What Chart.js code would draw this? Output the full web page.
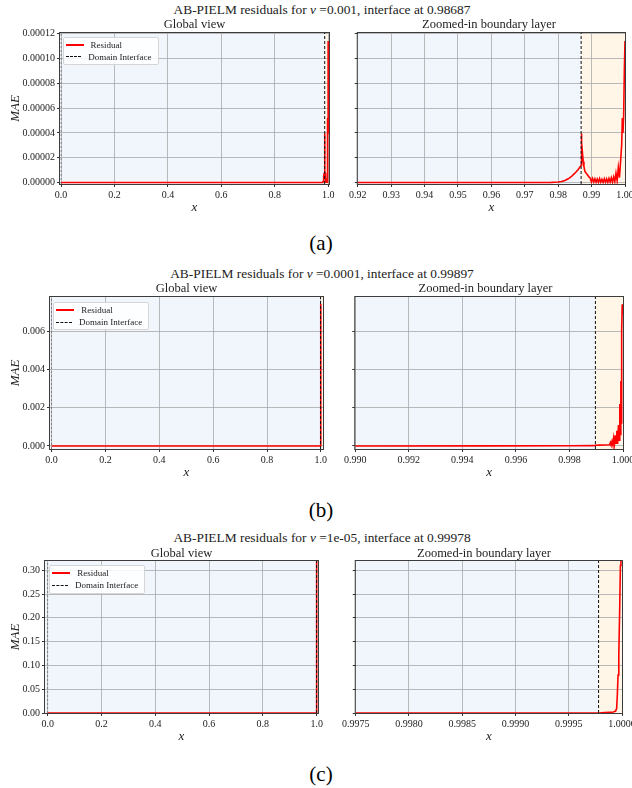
<!DOCTYPE html>
<html><head><meta charset="utf-8">
<script src="https://cdn.jsdelivr.net/npm/chart.js@4"></script>
<style>
html,body{margin:0;padding:0;background:#fff;}
body{width:632px;height:788px;overflow:hidden;position:relative;font-family:"Liberation Serif","Times New Roman",serif;color:#222;}
.t{position:absolute;white-space:nowrap;transform:translate(-50%,-50%);font-size:12.5px;line-height:14px;}
.st{position:absolute;white-space:nowrap;transform:translate(-50%,-50%);font-size:13.4px;line-height:15px;}
.lab{position:absolute;white-space:nowrap;transform:translate(-50%,-50%);font-size:21px;color:#000;}
.cv{position:absolute;}
.legend{position:absolute;background:rgba(255,255,255,0.85);border:1px solid #d6d6d6;border-radius:2px;font-size:9px;padding:1px 6px 1px 2px;box-sizing:border-box;}
.legend .row{display:flex;align-items:center;height:12.3px;white-space:nowrap;}
.legend .sw{width:18px;margin-right:7px;position:relative;height:2px;}
</style></head>
<body>
<script>
// ---------------- DATA ----------------
const caseLabels = ['(a)', '(b)', '(c)'];
const nuValues = ['0.001', '0.0001', '1e-05'];
const interfaceValues = [0.98687, 0.99897, 0.99978];
const seriesNames = ['Residual', 'Domain Interface'];
const subplotTitles = ['Global view', 'Zoomed-in boundary layer'];

// case (a): nu = 0.001
const aX = [0, 0.1, 0.2, 0.3, 0.4, 0.5, 0.6, 0.7, 0.8, 0.9, 0.95, 0.97,
  0.975, 0.978, 0.979, 0.980, 0.981, 0.982, 0.983, 0.984, 0.985, 0.986,
  0.9868, 0.98687, 0.9869, 0.9871, 0.9873, 0.9875, 0.9877, 0.9880, 0.9884, 0.9888, 0.9892, 0.9896,
  0.98995, 0.9903, 0.99065, 0.991, 0.99135, 0.9917, 0.99205, 0.9924, 0.99275, 0.9931,
  0.99345, 0.9938, 0.99415, 0.9945, 0.99485, 0.9952, 0.99555, 0.9959, 0.99625, 0.9966,
  0.99695, 0.9973, 0.99765, 0.998, 0.99835, 0.9987, 0.999, 0.9992, 0.9994, 0.9996, 0.9998, 1.0];
const aY = [0, 0, 0, 0, 0, 0, 0, 0, 0, 0, 0, 0,
  0.00000005, 0.0000001, 0.0000002, 0.0000004, 0.0000008, 0.0000016, 0.0000030, 0.0000050, 0.0000075, 0.0000105,
  0.0000135, 0.0000141, 0.0000396, 0.0000320, 0.0000230, 0.0000170, 0.0000130, 0.0000090, 0.0000075, 0.0000060, 0.0000045, 0.0000035,
  0.0000005, 0.0000032, 0.0000004, 0.0000030, 0.0000003, 0.0000028, 0.0000002, 0.0000031, 0.0000003, 0.0000026,
  0.0000002, 0.0000030, 0.0000003, 0.0000029, 0.0000002, 0.0000033, 0.0000004, 0.0000038, 0.0000003, 0.0000045,
  0.0000008, 0.0000075, 0.0000015, 0.0000120, 0.0000040, 0.0000180, 0.0000300, 0.0000520, 0.0000400, 0.0000540, 0.0000900, 0.000114];

// case (b): nu = 0.0001
const bX = [0, 0.1, 0.2, 0.3, 0.4, 0.5, 0.6, 0.7, 0.8, 0.9, 0.95, 0.99, 0.995, 0.998,
  0.9989, 0.99897, 0.9991, 0.9993, 0.9995,
  0.99953, 0.99956, 0.99959, 0.99962, 0.99965, 0.99968, 0.99971, 0.99974, 0.99977, 0.9998,
  0.99983, 0.99986, 0.99988, 0.9999, 0.99992, 0.99993, 0.99995, 0.99997, 0.99999, 1.0];
const bY = [0, 0, 0, 0, 0, 0, 0, 0, 0, 0, 0, 0, 0.000002, 0.000008,
  0.000015, 0.00004, 0.000045, 0.00005, 0.00006,
  0.00018, 0.00004, 0.00024, 0.00006, 0.00042, 0.0001, 0.00055, 0.00015, 0.0008, 0.0001,
  0.0011, 0.0003, 0.0022, 0.0006, 0.0034, 0.0012, 0.0060, 0.0074, 0.0069, 0.00743];

// case (c): nu = 1e-05
const cX = [0, 0.2, 0.4, 0.6, 0.8, 0.99, 0.999, 0.9998, 0.99992, 0.99993, 0.99994, 0.99995,
  0.999956, 0.999963, 0.99997, 0.999979, 0.999985, 0.99999, 1.0];
const cY = [0, 0, 0, 0, 0, 0, 0, 0.0002, 0.002, 0.003, 0.004, 0.01,
  0.038, 0.08, 0.122, 0.227, 0.31, 0.35, 0.40];

// tick labels
const globalXTicks = [0, 0.2, 0.4, 0.6, 0.8, 1.0];
const zoomXTicksA = [0.92, 0.93, 0.94, 0.95, 0.96, 0.97, 0.98, 0.99, 1.00];
const zoomXTicksB = [0.990, 0.992, 0.994, 0.996, 0.998, 1.000];
const zoomXTicksC = [0.9975, 0.9980, 0.9985, 0.9990, 0.9995, 1.0000];
const yTicksA = [0, 0.00002, 0.00004, 0.00006, 0.00008, 0.00010, 0.00012];
const yTicksB = [0, 0.002, 0.004, 0.006];
const yTicksC = [0, 0.05, 0.10, 0.15, 0.20, 0.25, 0.30];

// ---------------- LAYOUT ----------------
const rows = [
  {xs: aX, ys: aY, zTicks: zoomXTicksA, yTicks: yTicksA,
   top: 33, bottom: 184, gL: [60, 329], zL: [353, 625], gX: [-0.004, 1.003], zX: [0.92, 1.0],
   yR: [-0.0000012, 0.0001205], yDec: 5, zDec: 2, titleY: 9, subY: 24, labY: 243, leg: [2.5, 3.5]},
  {xs: bX, ys: bY, zTicks: zoomXTicksB, yTicks: yTicksB,
   top: 297, bottom: 449, gL: [50, 323], zL: [348, 623], gX: [-0.006, 1.008], zX: [0.990, 1.000],
   yR: [-0.00016, 0.0078], yDec: 3, zDec: 3, titleY: 273, subY: 288, labY: 510, leg: [3.3, 4.7]},
  {xs: cX, ys: cY, zTicks: zoomXTicksC, yTicks: yTicksC,
   top: 561, bottom: 713, gL: [45, 318], zL: [346, 622], gX: [-0.01, 1.005], zX: [0.9975, 1.0],
   yR: [0, 0.3195], yDec: 2, zDec: 4, titleY: 537, subY: 553, labY: 774, leg: [4.3, 4]}
];

const FONT = '"Liberation Serif", "Times New Roman", serif';
const BLUE = 'rgb(241,246,253)';
const ORANGE = 'rgb(255,246,232)';
const RED = '#ff0000';
const GRID = 'rgba(170,170,170,0.8)';
const PAD_TOP = 8, PAD_RIGHT = 16, XAX_H = 34;

const body = document.body;
function addDiv(cls, html, x, y) {
  const d = document.createElement('div');
  d.className = cls; d.innerHTML = html;
  d.style.left = x + 'px'; d.style.top = y + 'px';
  body.appendChild(d); return d;
}

const bgPlugin = {
  id: 'bg',
  beforeDraw(chart, args, o) {
    const {ctx, chartArea: a, scales: {x}} = chart;
    const ip = Math.max(a.left, Math.min(a.right, x.getPixelForValue(o.iface)));
    ctx.save();
    ctx.fillStyle = BLUE; ctx.fillRect(a.left, a.top, ip - a.left, a.bottom - a.top);
    ctx.fillStyle = ORANGE; ctx.fillRect(ip, a.top, a.right - ip, a.bottom - a.top);
    ctx.restore();
  },
  afterDraw(chart) {
    const {ctx, chartArea: a} = chart;
    ctx.save();
    ctx.strokeStyle = '#3c3c3c'; ctx.lineWidth = 1;
    ctx.strokeRect(a.left - 0.5, a.top - 0.5, a.right - a.left + 1, a.bottom - a.top + 1);
    ctx.restore();
  }
};

function makePanel(r, idx, isGlobal) {
  const [pl, pr] = isGlobal ? r.gL : r.zL;
  const axisW = isGlobal ? pl : 6;
  const left = pl - axisW;
  const W = (pr - pl) + axisW + PAD_RIGHT;
  const H = (r.bottom - r.top) + PAD_TOP + XAX_H;
  const cv = document.createElement('canvas');
  cv.className = 'cv'; cv.width = W; cv.height = H;
  cv.style.left = left + 'px'; cv.style.top = (r.top - PAD_TOP) + 'px';
  cv.style.width = W + 'px'; cv.style.height = H + 'px';
  body.appendChild(cv);

  const xr = isGlobal ? r.gX : r.zX;
  const xTicks = isGlobal ? globalXTicks : r.zTicks;
  const xDec = isGlobal ? 1 : r.zDec;
  const iface = interfaceValues[idx];
  const residual = r.xs.map((x, i) => ({x, y: r.ys[i]}));
  const datasets = [
    {label: seriesNames[0], data: residual, borderColor: RED, borderWidth: 1.6, pointRadius: 0, tension: 0, order: 1},
    {label: seriesNames[1], data: [{x: iface, y: r.yR[0]}, {x: iface, y: r.yR[1]}],
     borderColor: '#111', borderWidth: 1, borderDash: [3, 2], pointRadius: 0, order: 0}
  ];
  if (isGlobal) {
    datasets.push({label: '', data: [{x: 0, y: r.yR[0]}, {x: 0, y: r.yR[1]}],
      borderColor: 'rgba(60,60,60,0.6)', borderWidth: 0.8, borderDash: [2, 2], pointRadius: 0, order: 2});
  }
  new Chart(cv, {
    type: 'line',
    data: {datasets},
    plugins: [bgPlugin],
    options: {
      responsive: false, animation: false, devicePixelRatio: 1,
      layout: {padding: {top: PAD_TOP, right: PAD_RIGHT, left: 0, bottom: 0}},
      plugins: {legend: {display: false}, tooltip: {enabled: false}, bg: {iface}},
      scales: {
        x: {
          type: 'linear', min: xr[0], max: xr[1],
          afterBuildTicks: s => { s.ticks = xTicks.map(v => ({value: v})); },
          afterFit: s => { s.height = XAX_H; },
          ticks: {callback: v => Number(v).toFixed(xDec), font: {family: FONT, size: 10}, color: '#222', padding: 2, maxRotation: 0, autoSkip: false},
          grid: {color: GRID, lineWidth: 1, drawTicks: true, tickLength: 3, tickColor: '#333'},
          border: {display: false},
          title: {display: true, text: 'x', font: {family: FONT, size: 13, style: 'italic'}, color: '#222', padding: {top: 0, bottom: 3}}
        },
        y: {
          type: 'linear', min: r.yR[0], max: r.yR[1],
          afterBuildTicks: s => { s.ticks = r.yTicks.map(v => ({value: v})); },
          afterFit: s => { s.width = axisW; },
          ticks: {callback: v => isGlobal ? Number(v).toFixed(r.yDec) : '', font: {family: FONT, size: 10}, color: '#222', padding: 2, autoSkip: false},
          grid: {color: GRID, lineWidth: 1, drawTicks: true, tickLength: 3, tickColor: '#333'},
          border: {display: false},
          title: {display: isGlobal, text: 'MAE', font: {family: FONT, size: 13, style: 'italic'}, color: '#222', padding: {top: 8, bottom: 0}}
        }
      }
    }
  });

  addDiv('t', subplotTitles[isGlobal ? 0 : 1], (pl + pr) / 2, r.subY);

  if (isGlobal) {
    const lg = addDiv('legend',
      '<div class="row"><span class="sw" style="background:' + RED + '"></span>' + seriesNames[0] + '</div>' +
      '<div class="row"><span class="sw" style="height:0;border-top:1px dashed #111"></span>' + seriesNames[1] + '</div>',
      pl + r.leg[0], r.top + r.leg[1]);
    lg.style.width = '96px';
  }
}

rows.forEach((r, i) => {
  addDiv('st', 'AB-PIELM residuals for <i>ν</i> =' + nuValues[i] + ', interface at ' + interfaceValues[i], 322, r.titleY);
  makePanel(r, i, true);
  makePanel(r, i, false);
  addDiv('lab', caseLabels[i], 321, r.labY);
});
</script>
</body></html>
